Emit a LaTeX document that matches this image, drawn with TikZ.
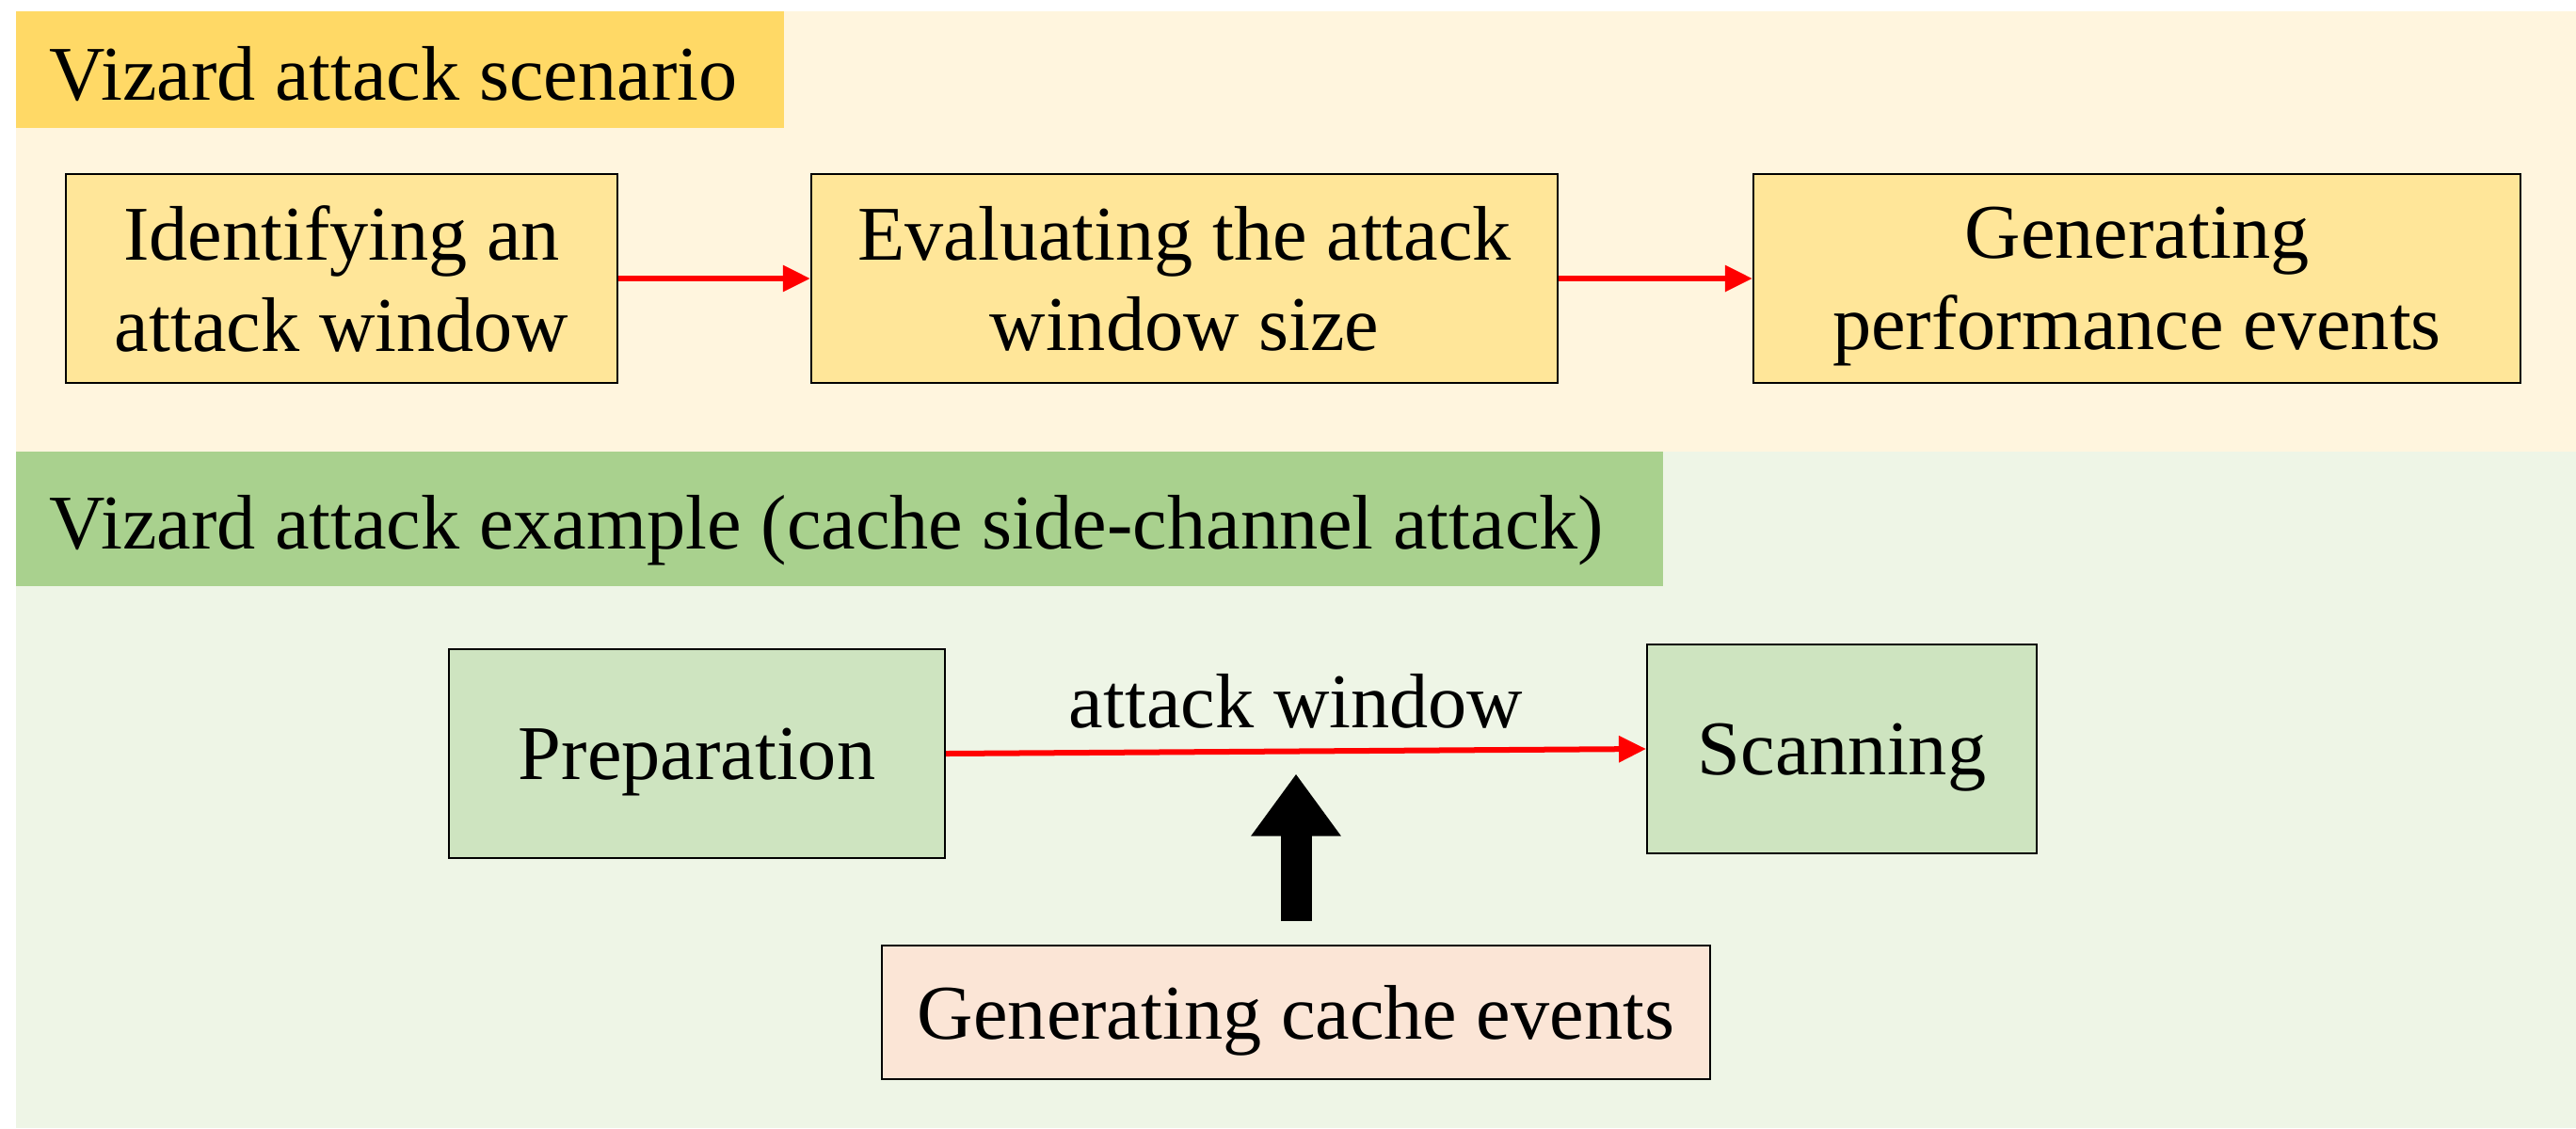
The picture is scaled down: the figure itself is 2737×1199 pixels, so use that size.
\documentclass[tikz,border=0pt]{standalone}
\usepackage{fontspec}
\setmainfont{Liberation Serif}
\usepackage{tikz}
\usetikzlibrary{arrows.meta,calc}
\definecolor{scenbg}{RGB}{255,245,222}
\definecolor{scenbar}{RGB}{255,217,102}
\definecolor{scenbox}{RGB}{255,230,153}
\definecolor{exbg}{RGB}{238,245,230}
\definecolor{exbar}{RGB}{169,209,142}
\definecolor{exbox}{RGB}{206,228,192}
\definecolor{evbox}{RGB}{251,229,214}

\begin{document}
\begin{tikzpicture}[x=0.01cm, y=-0.01cm,
    every node/.style={font=\fontsize{23.4}{27.5}\selectfont},
    stepbox/.style={draw, line width=0.5pt, align=center, inner sep=0pt, text depth=0pt},
    redarrow/.style={red, line width=0.06cm, -{Triangle[width=0.27cm,length=0.29cm]}},
    bigarrow/.style={black, line width=0.33cm, -{Triangle[width=0.91cm,length=0.66cm]}}]

    \useasboundingbox (0,0) rectangle (2737,1199);

    % Backgrounds and title bars
    \fill[scenbg] (17,12) rectangle (2737,480);
    \fill[scenbar] (17,12) rectangle (833,136);
    \fill[exbg] (17,480) rectangle (2737,1199);
    \fill[exbar] (17,480) rectangle (1767,623);
    \node[anchor=base west, inner sep=0pt] (scentitle) at (52,106) {Vizard attack scenario};
    \node[anchor=base west, inner sep=0pt] (extitle) at (52,583) {Vizard attack example (cache side-channel attack)};

    % Scenario steps
    \node[stepbox, fill=scenbox, minimum width=5.86cm, minimum height=2.22cm] (ident) at (363,296) {Identifying an\\attack window};
    \node[stepbox, fill=scenbox, minimum width=7.93cm, minimum height=2.22cm] (eval) at (1258.5,296) {Evaluating the attack\\window size};
    \node[stepbox, fill=scenbox, minimum width=8.15cm, minimum height=2.22cm] (gen) at (2270.5,296) {Generating\\performance events};

    \draw[redarrow] (ident) -- (eval);
    \draw[redarrow] (eval) -- (gen);

    % Cache side-channel example
    \node[stepbox, fill=exbox, minimum width=5.27cm, minimum height=2.22cm] (prep) at (740.5,801) {Preparation};
    \node[stepbox, fill=exbox, minimum width=4.14cm, minimum height=2.22cm] (scan) at (1957,796) {Scanning};
    \node[stepbox, fill=evbox, minimum width=8.80cm, minimum height=1.42cm] (cache) at (1377,1076) {Generating cache events};

    \draw[redarrow] (prep.east) -- (scan.west) node[midway, above, yshift=0.09cm, text=black] (winlabel) {attack window} coordinate[midway] (winmid);

    \coordinate (evtail) at ($(cache.north)+(0,-25)$);
    \coordinate (evtip) at ($(winmid)+(0,24)$);
    \draw[bigarrow] (evtail) -- (evtail |- evtip);

\end{tikzpicture}
\end{document}
